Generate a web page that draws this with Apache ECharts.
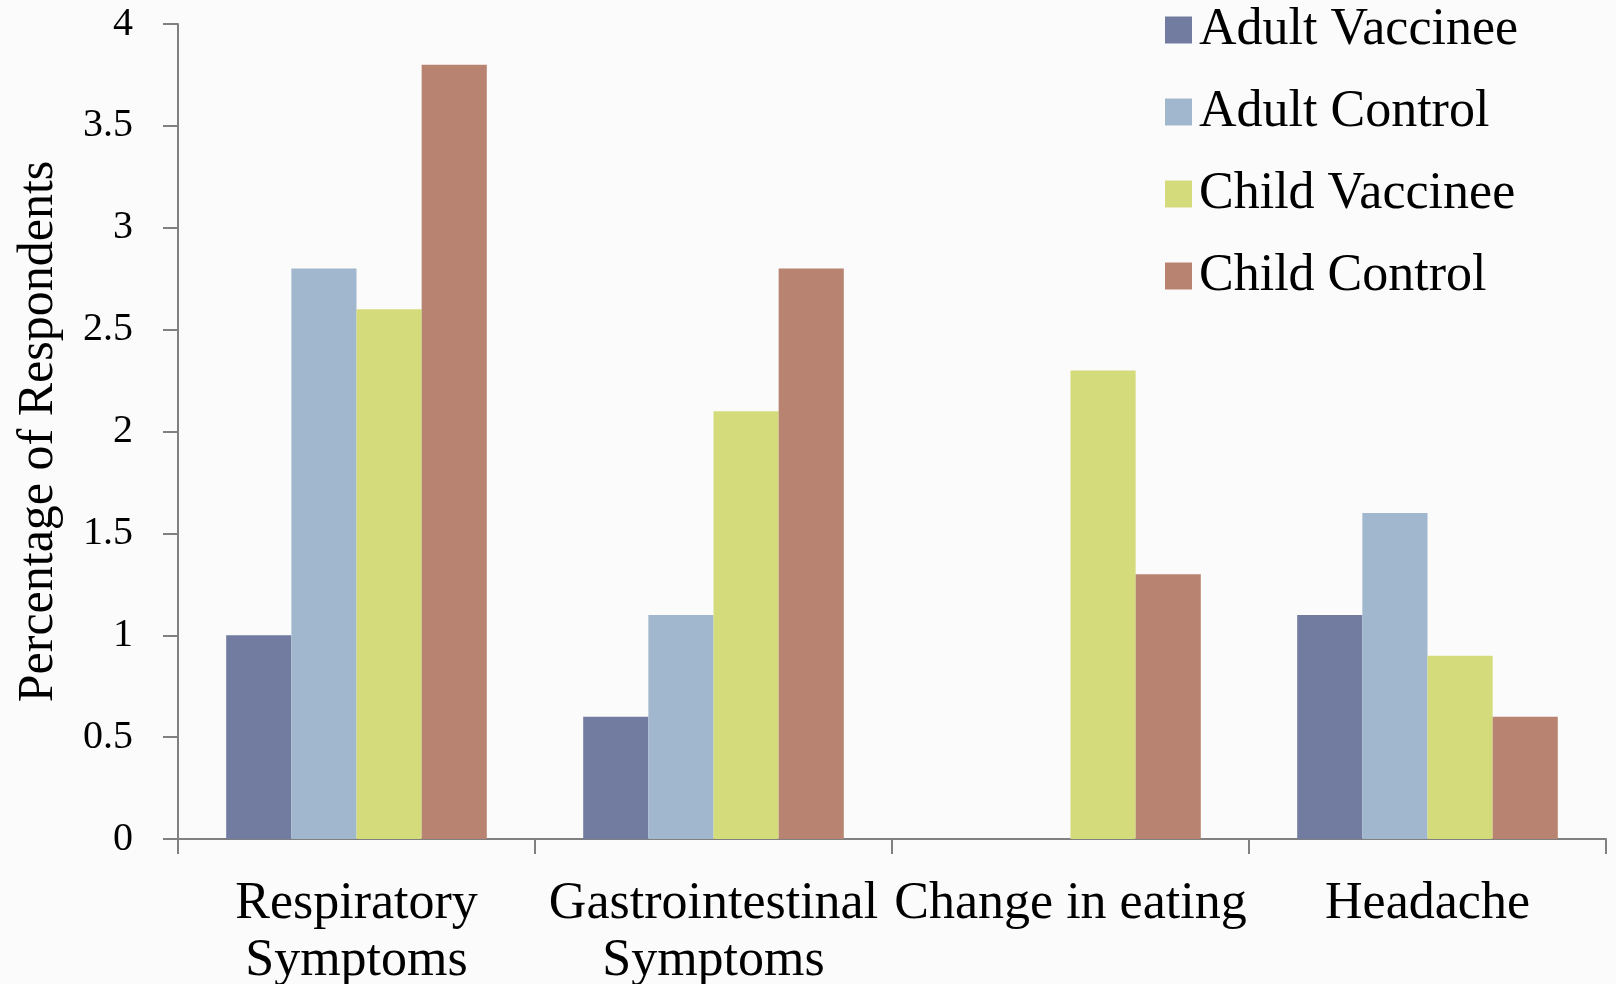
<!DOCTYPE html>
<html>
<head>
<meta charset="utf-8">
<script src="https://cdn.jsdelivr.net/npm/echarts@6/dist/echarts.min.js"></script>
<style>
html,body{margin:0;padding:0;background:#fbfbfb;}
#chart{width:1616px;height:984px;}
</style>
</head>
<body>
<div id="chart"></div>
<script>
const categories = ['Respiratory\nSymptoms', 'Gastrointestinal\nSymptoms', 'Change in eating', 'Headache'];
const seriesNames = ['Adult Vaccinee', 'Adult Control', 'Child Vaccinee', 'Child Control'];
const adultVaccinee = [1.0, 0.6, 0, 1.1];
const adultControl = [2.8, 1.1, 0, 1.6];
const childVaccinee = [2.6, 2.1, 2.3, 0.9];
const childControl = [3.8, 2.8, 1.3, 0.6];
const colors = ['#727ba0', '#a1b7ce', '#d4db7b', '#b88471'];
const yTicks = [0, 0.5, 1, 1.5, 2, 2.5, 3, 3.5, 4];

const values = [adultVaccinee, adultControl, childVaccinee, childControl];
const font = '"Liberation Serif", "DejaVu Serif", serif';

const chart = echarts.init(document.getElementById('chart'));
chart.setOption({
  backgroundColor: '#fbfbfb',
  animation: false,
  textStyle: { fontFamily: font },
  legend: {
    orient: 'vertical',
    left: 1160,
    top: -1,
    icon: 'rect',
    itemWidth: 27,
    itemHeight: 27,
    itemGap: 30,
    textStyle: { fontFamily: font, fontSize: 52, color: '#000', lineHeight: 50, padding: [0, 0, 0, 2] },
    data: seriesNames
  },
  grid: { left: 178, right: 10, top: 24, bottom: 145, containLabel: false, outerBoundsMode: 'none' },
  xAxis: {
    type: 'category',
    data: categories,
    boundaryGap: true,
    axisLine: { lineStyle: { color: '#808080', width: 2 } },
    axisTick: { show: true, length: 15, alignWithLabel: false, lineStyle: { color: '#808080', width: 2 } },
    axisLabel: { interval: 0, margin: 37, fontFamily: font, fontSize: 52, color: '#000', lineHeight: 57 }
  },
  yAxis: {
    type: 'value',
    min: 0,
    max: 4,
    interval: 0.5,
    name: 'Percentage of Respondents',
    nameLocation: 'middle',
    nameGap: 114,
    nameRotate: 90,
    nameTextStyle: { fontFamily: font, fontSize: 50, color: '#000' },
    axisLine: { show: true, lineStyle: { color: '#808080', width: 2 } },
    axisTick: { show: true, length: 15, lineStyle: { color: '#808080', width: 2 } },
    splitLine: { show: false },
    axisLabel: {
      margin: 45, fontFamily: font, fontSize: 40, color: '#000',
      formatter: v => yTicks.includes(v) ? String(v) : ''
    }
  },
  series: seriesNames.map((name, i) => ({
    name: name,
    type: 'bar',
    data: values[i],
    barGap: '0%',
    barCategoryGap: '27%',
    itemStyle: { color: colors[i] }
  }))
});
</script>
</body>
</html>
